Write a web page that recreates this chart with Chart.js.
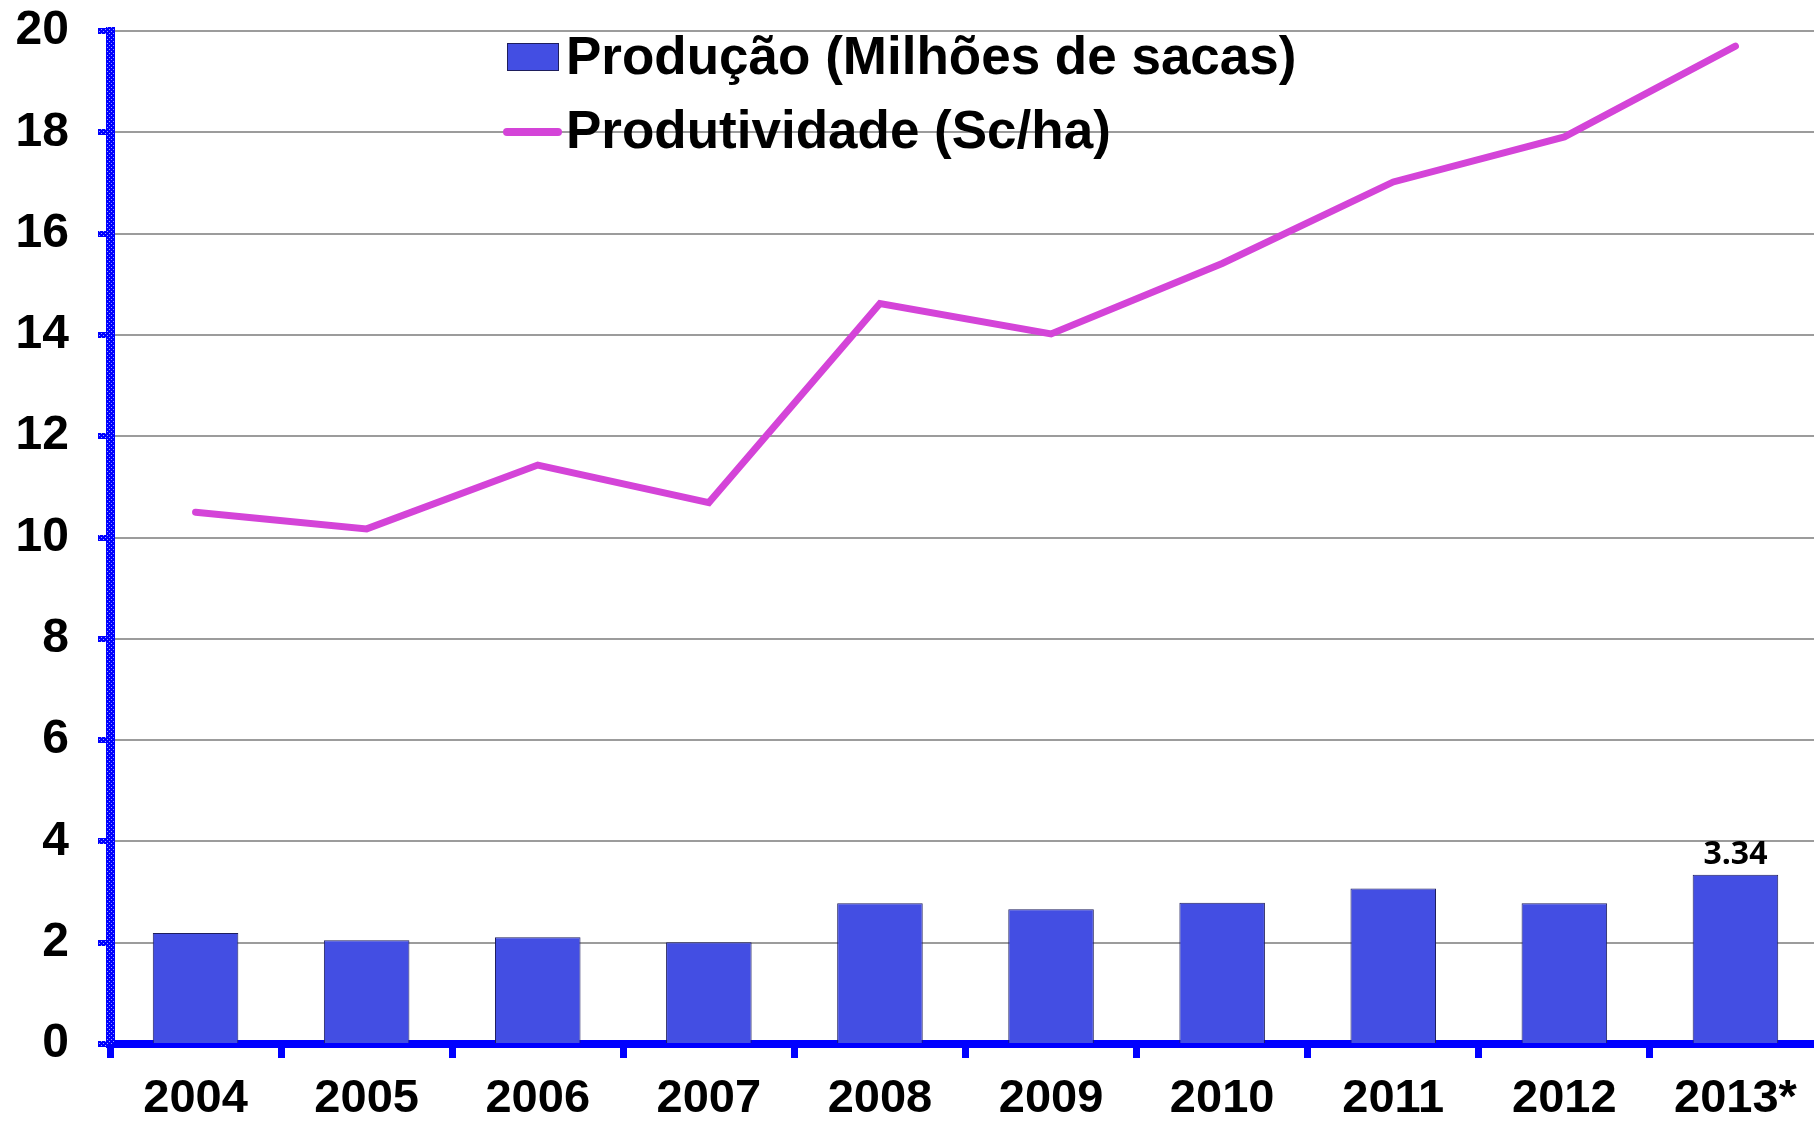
<!DOCTYPE html>
<html>
<head>
<meta charset="utf-8">
<script src="https://cdn.jsdelivr.net/npm/chart.js@4.4.0/dist/chart.umd.min.js"></script>
<style>
  html, body { margin: 0; padding: 0; background: #ffffff; overflow: hidden; }
  #wrap { position: relative; width: 1821px; height: 1122px; }
</style>
</head>
<body>
<div id="wrap"><canvas id="c"></canvas></div>
<script>
const categories = ['2004', '2005', '2006', '2007', '2008', '2009', '2010', '2011', '2012', '2013*'];
const producao = [2.19, 2.05, 2.11, 2.01, 2.78, 2.66, 2.79, 3.07, 2.78, 3.34];
const produtividade = [10.50, 10.17, 11.43, 10.69, 14.62, 14.02, 15.41, 17.02, 17.91, 19.70];
const producaoLabel = 'Produção (Milhões de sacas)';
const produtividadeLabel = 'Produtividade (Sc/ha)';
const labeledBars = [9];
const yMin = 0, yMax = 20, yStep = 2;

const BAR_COLOR = '#434EE3';
const BAR_BORDER = '#1e1e5c';
const LINE_COLOR = '#D444D8';
const AXIS_BLUE = '#0000FF';

// dotted blue pattern for the vertical axis
function makePattern() {
  const p = document.createElement('canvas');
  p.width = 4; p.height = 4;
  const g = p.getContext('2d');
  g.fillStyle = AXIS_BLUE; g.fillRect(0, 0, 4, 4);
  g.fillStyle = '#9aa0ff';
  g.fillRect(1, 1, 1, 1);
  g.fillRect(3, 3, 1, 1);
  return g.createPattern(p, 'repeat');
}
const ctx = document.getElementById('c').getContext('2d');
const dotted = makePattern();

const legendPlugin = {
  id: 'customLegend',
  afterDraw(chart) {
    const c = chart.ctx;
    c.save();
    // bar swatch
    c.fillStyle = BAR_COLOR;
    c.fillRect(507, 43, 51, 27);
    c.strokeStyle = BAR_BORDER; c.lineWidth = 1;
    c.strokeRect(507.5, 43.5, 51, 27);
    // line swatch
    c.strokeStyle = LINE_COLOR; c.lineWidth = 8; c.lineCap = 'round';
    c.beginPath(); c.moveTo(507, 132); c.lineTo(558, 132); c.stroke();
    // texts
    c.fillStyle = '#000';
    c.font = 'bold 53px "Liberation Sans", Arial, sans-serif';
    c.textAlign = 'left'; c.textBaseline = 'alphabetic';
    c.fillText(chart.data.datasets[1].label, 566, 74);
    c.fillText(chart.data.datasets[0].label, 566, 148);
    // bar value label(s)
    const meta = chart.getDatasetMeta(1);
    c.font = 'bold 32px "Open Sans", sans-serif';
    c.textAlign = 'center';
    labeledBars.forEach(i => {
      const el = meta.data[i];
      c.fillText(producao[i].toFixed(2), el.x, el.y - 11);
    });
    c.restore();
  }
};

new Chart(ctx, {
  type: 'bar',
  data: {
    labels: categories,
    datasets: [
      {
        type: 'line',
        label: produtividadeLabel,
        data: produtividade,
        borderColor: LINE_COLOR,
        backgroundColor: LINE_COLOR,
        borderWidth: 7,
        borderCapStyle: 'round',
        borderJoinStyle: 'miter',
        pointRadius: 0,
        tension: 0,
        order: 0
      },
      {
        type: 'bar',
        label: producaoLabel,
        data: producao,
        backgroundColor: BAR_COLOR,
        borderColor: BAR_BORDER,
        borderWidth: 1,
        barPercentage: 0.5,
        categoryPercentage: 1.0,
        order: 1
      }
    ]
  },
  options: {
    responsive: true,
    maintainAspectRatio: false,
    animation: false,
    layout: { padding: { top: 31, right: 0, bottom: 0, left: 0 } },
    plugins: { legend: { display: false }, tooltip: { enabled: false } },
    scales: {
      x: {
        offset: true,
        grid: {
          display: true, drawOnChartArea: false, drawTicks: true, offset: true,
          tickLength: 14, tickWidth: 7, tickColor: AXIS_BLUE
        },
        border: { display: true, color: AXIS_BLUE, width: 8 },
        ticks: {
          color: '#000', padding: 13,
          font: { family: '"Liberation Sans", Arial, sans-serif', size: 47, weight: 'bold' },
          maxRotation: 0, autoSkip: false
        },
        afterFit(scale) { scale.height = 78; scale.paddingLeft = 0; scale.paddingRight = 0; }
      },
      y: {
        min: yMin, max: yMax,
        grid: {
          color: '#9c9c9c', lineWidth: 2,
          drawTicks: true, tickLength: 12, tickWidth: 6, tickColor: dotted
        },
        border: { display: true, color: dotted, width: 9 },
        ticks: {
          stepSize: yStep, color: '#000', padding: 29,
          font: { family: '"Liberation Sans", Arial, sans-serif', size: 48, weight: 'bold' }
        },
        afterFit(scale) { scale.width = 110; scale.paddingTop = 0; scale.paddingBottom = 0; }
      }
    }
  },
  plugins: [legendPlugin]
});
</script>
</body>
</html>
